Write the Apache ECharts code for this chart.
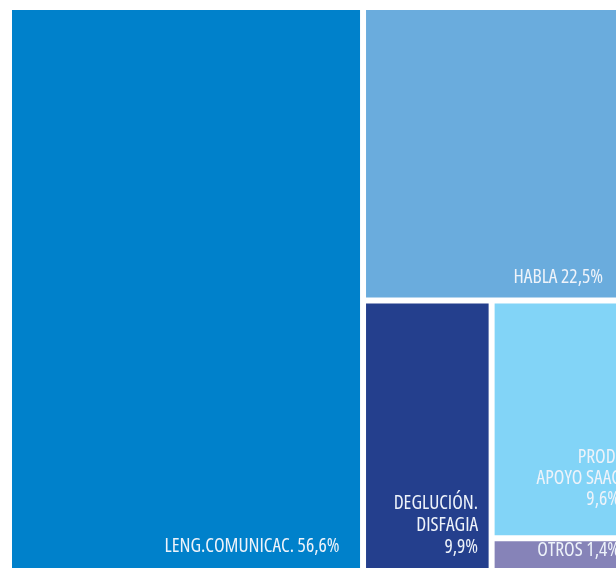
<!DOCTYPE html>
<html>
<head>
<meta charset="utf-8">
<script src="https://cdn.jsdelivr.net/npm/echarts@6/dist/echarts.min.js"></script>
<style>
  html, body { margin: 0; padding: 0; background: #ffffff; }
  #chart { width: 616px; height: 568px; }
</style>
</head>
<body>
<div id="chart"></div>
<script>
// ---- data ----
const categories = ['LENG.COMUNICAC.', 'HABLA', 'DEGLUCIÓN.\nDISFAGIA', 'PROD.\nAPOYO SAAC', 'OTROS'];
const values = [56.6, 22.5, 9.9, 9.6, 1.4];
const valueSeparators = [' ', ' ', '\n', '\n', ' '];
const colors = ['#0081CB', '#6AACDD', '#243F8D', '#82D4F7', '#8683B8'];
// label offsets from the bottom-right corner of each block [x, y] and line heights
const labelOffsets = [[-15.5, -8], [-23.5, -4], [-5.5, -7], [-6.5, -20], [-6.5, -8]];
const labelLineHeights = [21.5, 21.5, 22, 21, 14];

function fmt(v) { return v.toFixed(1).replace('.', ',') + '%'; }

function leaf(i) {
  return {
    name: categories[i],
    value: values[i],
    itemStyle: { color: colors[i] },
    label: {
      offset: labelOffsets[i],
      lineHeight: labelLineHeights[i],
      formatter: categories[i] + valueSeparators[i] + fmt(values[i])
    }
  };
}

// nested layout: left column | (top | (left | (top | bottom)))
const treeData = [
  leaf(0),
  { name: 'g1', children: [
    leaf(1),
    { name: 'g2', children: [
      leaf(2),
      { name: 'g3', children: [leaf(3), leaf(4)] }
    ]}
  ]}
];

const chart = echarts.init(document.getElementById('chart'), null, { renderer: 'canvas' });
chart.setOption({
  animation: false,
  series: [{
    type: 'treemap',
    left: 12,
    top: 10,
    width: 619.5,
    height: 560,
    roam: false,
    nodeClick: false,
    sort: false,
    squareRatio: 1.1,
    breadcrumb: { show: false },
    itemStyle: { borderWidth: 0, gapWidth: 6, borderColor: '#ffffff' },
    upperLabel: { show: false },
    label: {
      show: true,
      position: 'insideBottomRight',
      align: 'right',
      color: '#EEF3FA',
      fontFamily: "'Open Sans'",
      fontWeight: 'condensed',
      fontSize: 19.5
    },
    emphasis: { disabled: true },
    data: treeData
  }]
});
</script>
</body>
</html>
